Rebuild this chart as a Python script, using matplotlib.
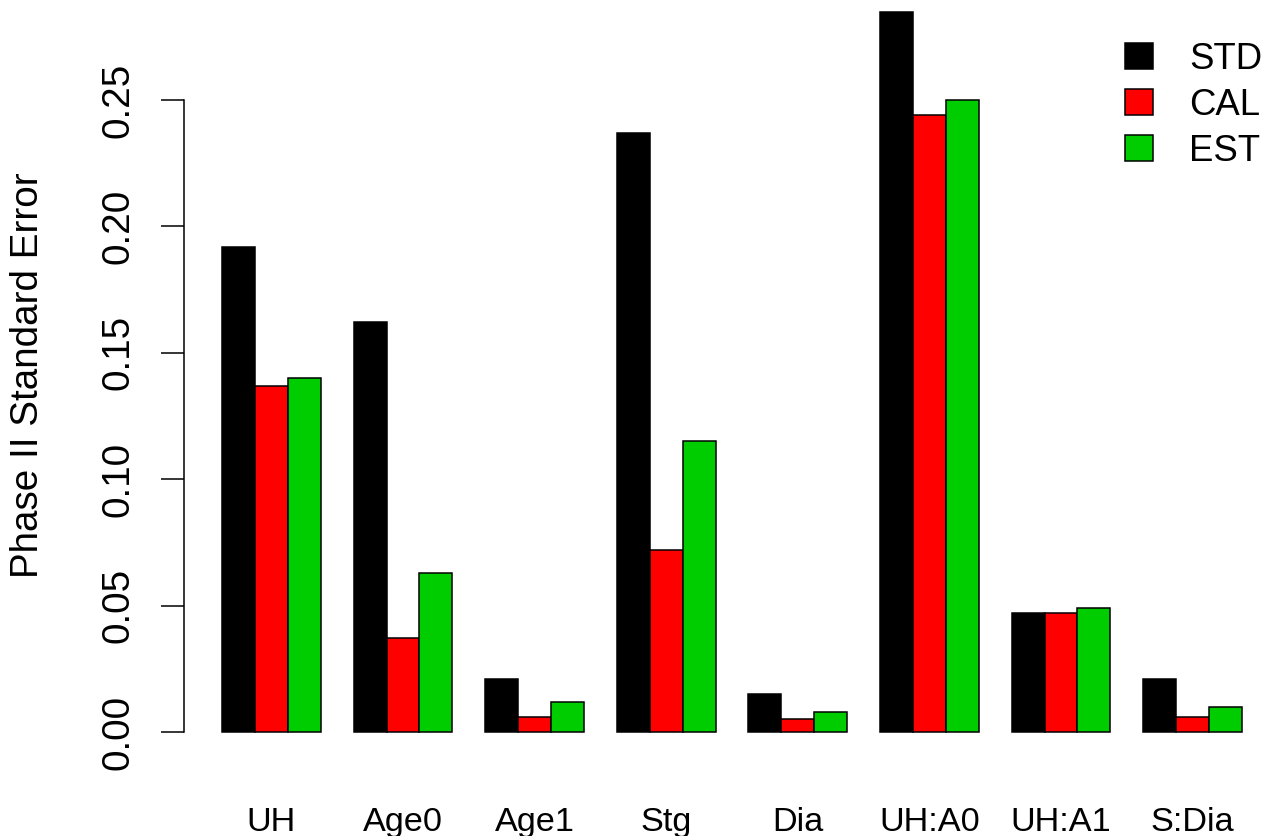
import matplotlib
matplotlib.use("Agg")
import matplotlib.pyplot as plt
from matplotlib.patches import Patch
import numpy as np

categories = ["UH", "Age0", "Age1", "Stg", "Dia", "UH:A0", "UH:A1", "S:Dia"]
series_names = ["STD", "CAL", "EST"]
std_vals = [0.192, 0.162, 0.021, 0.237, 0.015, 0.285, 0.047, 0.021]
cal_vals = [0.137, 0.037, 0.006, 0.072, 0.005, 0.244, 0.047, 0.006]
est_vals = [0.140, 0.063, 0.012, 0.115, 0.008, 0.250, 0.049, 0.010]
colors = ["#000000", "#FF0000", "#00CD00"]
yticks = [0.00, 0.05, 0.10, 0.15, 0.20, 0.25]
ylabel = "Phase II Standard Error"

plt.rcParams['font.family'] = ['Liberation Sans', 'DejaVu Sans']
FS_Y = 27.8
FS_X = 24.7
FS_LEG = 26.3

W, H = 1268, 836
fig = plt.figure(figsize=(W / 100, H / 100), dpi=100)

# pixel geometry of plot region
ax_left_px, ax_right_px = 184, 1268
ax_top_px, ax_bot_px = 0, 760
ax = fig.add_axes([ax_left_px / W, 1 - ax_bot_px / H,
                   (ax_right_px - ax_left_px) / W, (ax_bot_px - ax_top_px) / H])

# R-style barplot positions: groups of 3 bars, width 1, one space between groups
n = len(categories)
series = [std_vals, cal_vals, est_vals]
lefts_first = np.arange(n) * 4 + 1
for j, (vals, col) in enumerate(zip(series, colors)):
    ax.bar(lefts_first + j, vals, width=1.0, align='edge', color=col,
           edgecolor='black', linewidth=1.1, label=series_names[j])

# x scale: x=1 at px 222, x=32 at px 1242
px_per_unit = (1242 - 222) / 31
ax.set_xlim(1 - (222 - ax_left_px) / px_per_unit, 32 + (ax_right_px - 1242) / px_per_unit)
# y scale: 0 at px 732, 0.25 at px 100
py_per_unit = (732 - 100) / 0.25
ax.set_ylim(-(ax_bot_px - 732) / py_per_unit, (732 - ax_top_px) / py_per_unit)

for s in ['top', 'right', 'bottom']:
    ax.spines[s].set_visible(False)
ax.spines['left'].set_bounds(0, 0.25)
ax.spines['left'].set_linewidth(1.1)

ax.set_yticks(yticks)
ax.set_yticklabels([f"{v:.2f}" for v in yticks], rotation=90, va='center', fontsize=FS_Y)
ax.tick_params(axis='y', length=16.5, width=1.1, pad=18)

ax.set_xticks(lefts_first + 1.5)
ax.set_xticklabels(categories, fontsize=FS_X)
ax.tick_params(axis='x', length=0, pad=34)

ax.set_ylabel(ylabel, fontsize=FS_Y)
ax.yaxis.set_label_coords(28 / W, 1 - 375 / H, transform=fig.transFigure)
ax.yaxis.label.set_verticalalignment('center')

handles = [Patch(facecolor=c, edgecolor='black', linewidth=1.1) for c in colors]
fig.legend(handles, series_names, loc='upper right',
           bbox_to_anchor=(1262 / W, 1 - 42 / H), frameon=False, fontsize=FS_LEG,
           handlelength=0.78, handleheight=0.7, handletextpad=0.98,
           labelspacing=0.30, borderpad=0, borderaxespad=0)

fig.savefig("out.png", dpi=100)
